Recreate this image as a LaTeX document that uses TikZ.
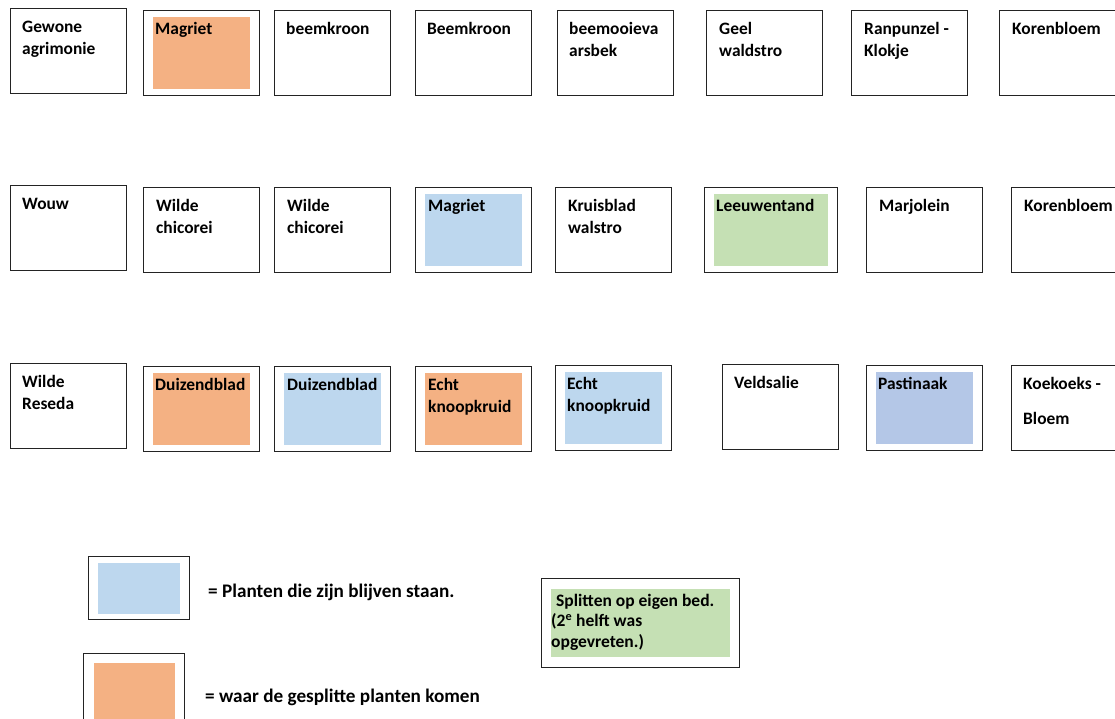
\documentclass[tikz,border=0pt]{standalone}
\usepackage{fontspec}
\setmainfont{Carlito}
\definecolor{splitorange}{RGB}{244, 177, 131}
\definecolor{stayblue}{RGB}{189, 215, 238}
\definecolor{parsnipblue}{RGB}{180, 199, 231}
\definecolor{ownbedgreen}{RGB}{197, 224, 180}
\definecolor{bedline}{RGB}{35, 35, 35}
\usetikzlibrary{positioning, calc}
\tikzset{
  bed/.style={draw=bedline, line width=1.2pt, anchor=north west, inner sep=0pt, minimum width=116pt, minimum height=85pt},
  patch/.style={inner sep=0pt, minimum width=97pt, minimum height=72pt},
  plant/.style={anchor=base west, inner sep=0pt, text width=130pt, align=flush left, font=\bfseries\fontsize{17.4}{22.5}\selectfont},
  legendtext/.style={anchor=base west, inner sep=0pt, font=\bfseries\fontsize{19.2}{21}\selectfont}
}

\begin{document}
\begin{tikzpicture}[x=1pt, y=-1pt]
  \clip (0,0) rectangle (1115,718);

  % first row
  \node[bed] (b11) at (10,8) {};
  \node[plant] (t11) at ($(b11.north west)+(12,24)$) {Gewone\\agrimonie};
  \node[bed] (b12) at (143,10) {};
  \node[patch, fill=splitorange] (p12) at (b12.center) {};
  \node[plant] (t12) at ($(b12.north west)+(12,24)$) {Magriet};
  \node[bed] (b13) at (274,10) {};
  \node[plant] (t13) at ($(b13.north west)+(12,24)$) {beemkroon};
  \node[bed] (b14) at (415,10) {};
  \node[plant] (t14) at ($(b14.north west)+(12,24)$) {Beemkroon};
  \node[bed] (b15) at (557,10) {};
  \node[plant] (t15) at ($(b15.north west)+(12,24)$) {beemooieva\\arsbek};
  \node[bed] (b16) at (706,10) {};
  \node[plant] (t16) at ($(b16.north west)+(13,24)$) {Geel\\waldstro};
  \node[bed] (b17) at (851,10) {};
  \node[plant] (t17) at ($(b17.north west)+(13,24)$) {Ranpunzel -\\Klokje};
  \node[bed] (b18) at (999,10) {};
  \node[plant] (t18) at ($(b18.north west)+(13,24)$) {Korenbloem};

  % second row
  \node[bed] (b21) at (10,185) {};
  \node[plant] (t21) at ($(b21.north west)+(12,24)$) {Wouw};
  \node[bed] (b22) at (143,187) {};
  \node[plant] (t22) at ($(b22.north west)+(13,24)$) {Wilde\\chicorei};
  \node[bed] (b23) at (274,187) {};
  \node[plant] (t23) at ($(b23.north west)+(13,24)$) {Wilde\\chicorei};
  \node[bed] (b24) at (415,187) {};
  \node[patch, fill=stayblue] (p24) at (b24.center) {};
  \node[plant] (t24) at ($(b24.north west)+(13,24)$) {Magriet};
  \node[bed] (b25) at (555,187) {};
  \node[plant] (t25) at ($(b25.north west)+(13,24)$) {Kruisblad\\walstro};
  \node[bed, minimum width=133pt] (b26) at (704,187) {};
  \node[patch, fill=ownbedgreen, minimum width=114pt] (p26) at (b26.center) {};
  \node[plant] (t26) at ($(b26.north west)+(12,24)$) {Leeuwentand};
  \node[bed] (b27) at (866,187) {};
  \node[plant] (t27) at ($(b27.north west)+(13,24)$) {Marjolein};
  \node[bed] (b28) at (1011,187) {};
  \node[plant] (t28) at ($(b28.north west)+(13,24)$) {Korenbloem};

  % third row
  \node[bed] (b31) at (10,363) {};
  \node[plant] (t31) at ($(b31.north west)+(12,24)$) {Wilde\\Reseda};
  \node[bed] (b32) at (143,366) {};
  \node[patch, fill=splitorange] (p32) at (b32.center) {};
  \node[plant] (t32) at ($(b32.north west)+(12,24)$) {Duizendblad};
  \node[bed] (b33) at (274,366) {};
  \node[patch, fill=stayblue] (p33) at (b33.center) {};
  \node[plant] (t33) at ($(b33.north west)+(13,24)$) {Duizendblad};
  \node[bed] (b34) at (415,366) {};
  \node[patch, fill=splitorange] (p34) at (b34.center) {};
  \node[plant] (t34) at ($(b34.north west)+(13,24)$) {Echt\\knoopkruid};
  \node[bed] (b35) at (555,365) {};
  \node[patch, fill=stayblue] (p35) at (b35.center) {};
  \node[plant] (t35) at ($(b35.north west)+(12,24)$) {Echt\\knoopkruid};
  \node[bed] (b36) at (722,364) {};
  \node[plant] (t36) at ($(b36.north west)+(12,24)$) {Veldsalie};
  \node[bed] (b37) at (866,365) {};
  \node[patch, fill=parsnipblue] (p37) at (b37.center) {};
  \node[plant] (t37) at ($(b37.north west)+(12,24)$) {Pastinaak};
  \node[bed] (b38) at (1011,365) {};
  \node[plant] (t38) at ($(b38.north west)+(12,24)$) {Koekoeks -\\[13pt]Bloem};

  % legend
  \node[bed, minimum width=101pt, minimum height=63pt] (leg1) at (88,556) {};
  \node[patch, fill=stayblue, minimum width=82pt, minimum height=51pt] (lp1) at (leg1.center) {};
  \node[legendtext] (lt1) at (208,597) {= Planten die zijn blijven staan.};
  \node[bed, minimum width=101pt, minimum height=80pt] (leg2) at (83,653) {};
  \node[patch, fill=splitorange, minimum width=81pt, minimum height=62pt] (lp2) at (leg2.center) {};
  \node[legendtext] (lt2) at (205,702) {= waar de gesplitte planten komen};

  % eigen bed
  \node[bed, minimum width=198pt, minimum height=89pt] (own) at (541,578) {};
  \node[patch, fill=ownbedgreen, minimum width=179pt, minimum height=68pt] (ownp) at (own.center) {};
  \node[plant, text width=185pt, font=\bfseries\fontsize{17.5}{20.5}\selectfont] (ownt) at (551,606) {\hspace{5pt}Splitten op eigen bed.\\(2\textsuperscript{e} helft was\\opgevreten.)};
\end{tikzpicture}
\end{document}
